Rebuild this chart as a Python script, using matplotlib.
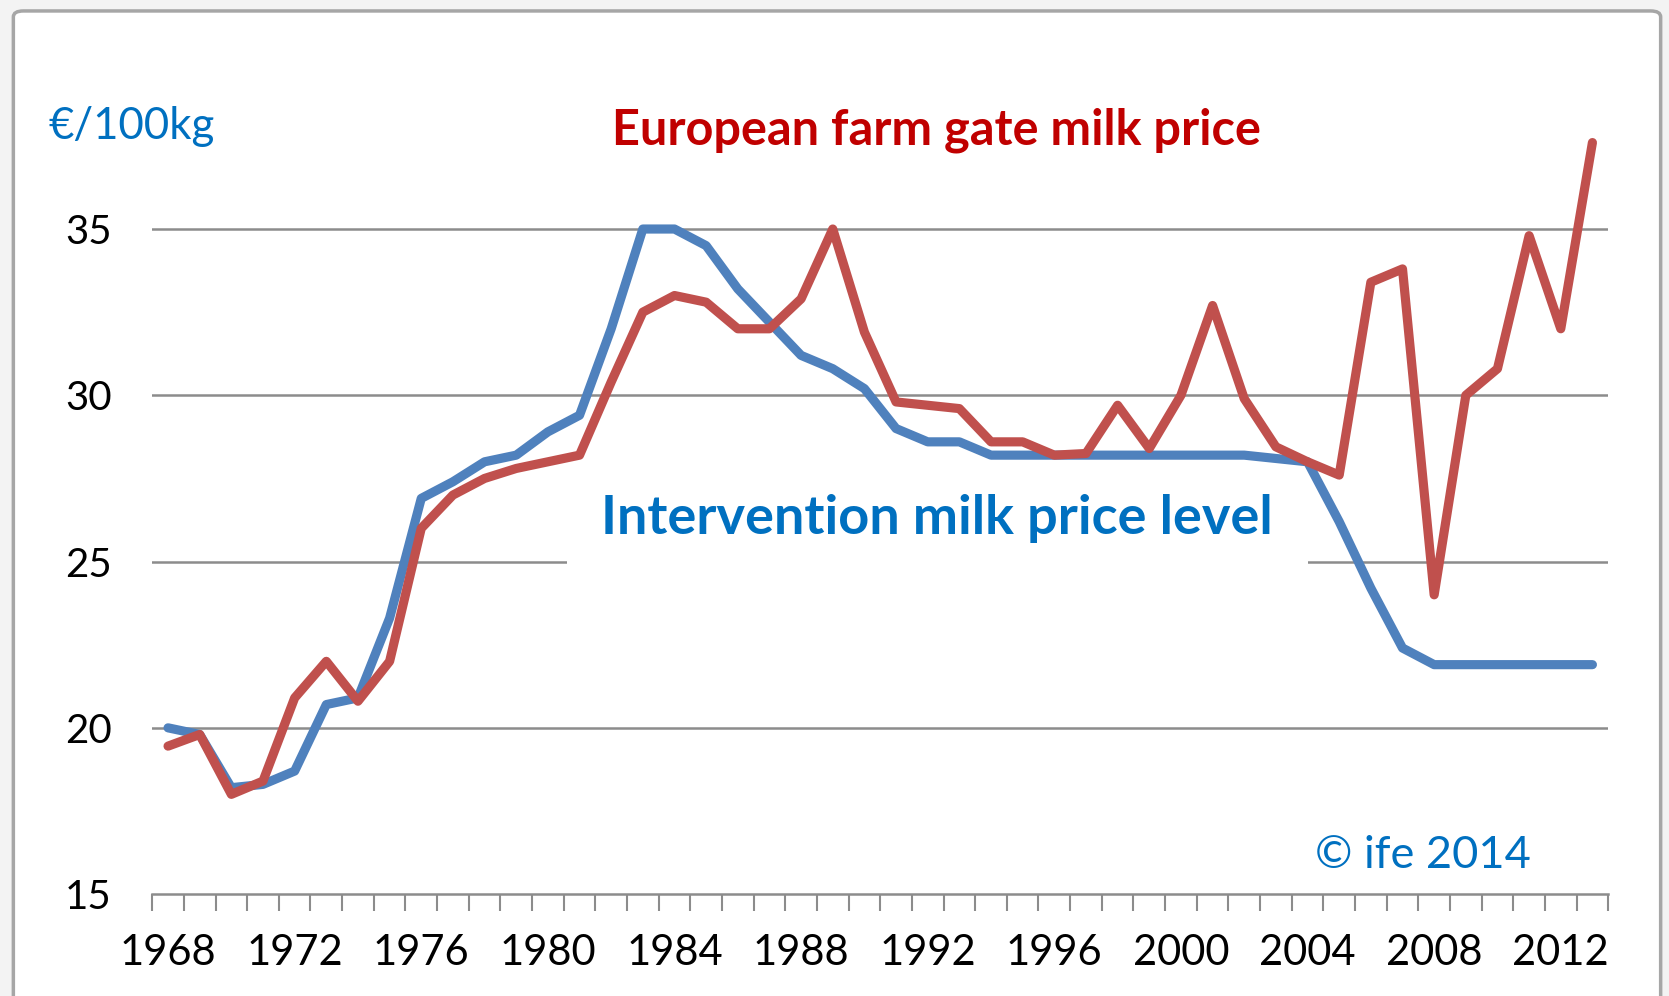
import matplotlib.pyplot as plt
from matplotlib.patches import FancyBboxPatch, Rectangle
import numpy as np

# data (EUR / 100 kg)
years = list(range(1968, 2014))
intervention = [20.0, 19.8, 18.2, 18.3, 18.7, 20.7, 20.9, 23.3, 26.9, 27.4,
                28.0, 28.2, 28.9, 29.4, 32.0, 35.0, 35.0, 34.5, 33.2, 32.2,
                31.2, 30.8, 30.2, 29.0, 28.6, 28.6, 28.2, 28.2, 28.2, 28.2,
                28.2, 28.2, 28.2, 28.2, 28.2, 28.1, 28.0, 26.2, 24.2, 22.4,
                21.9, 21.9, 21.9, 21.9, 21.9, 21.9]
farm_gate = [19.45, 19.8, 18.0, 18.4, 20.9, 22.0, 20.8, 22.0, 26.0, 27.0,
             27.5, 27.8, 28.0, 28.2, 30.4, 32.5, 33.0, 32.8, 32.0, 32.0,
             32.9, 35.0, 31.9, 29.8, 29.7, 29.6, 28.6, 28.6, 28.2, 28.25,
             29.7, 28.4, 30.0, 32.7, 29.9, 28.45, 28.0, 27.6, 33.4, 33.8,
             24.0, 30.0, 30.8, 34.8, 32.0, 37.6]
y_ticks = [15, 20, 25, 30, 35]
label_years = [1968, 1972, 1976, 1980, 1984, 1988, 1992, 1996, 2000, 2004, 2008, 2012]

blue = "#4F81BD"
red = "#C0504D"
text_blue = "#0070C0"
text_red = "#C00000"
grid_grey = "#8C8C8C"

plt.rcParams["font.family"] = ["Lato", "DejaVu Sans"]

fig = plt.figure(figsize=(16.69, 9.96), dpi=100, facecolor="#F3F3F3")

# chart area frame
frame = FancyBboxPatch((0.008, -0.02), 0.987, 1.009, boxstyle="round,pad=0,rounding_size=0.006",
                       transform=fig.transFigure, facecolor="white", edgecolor="#A6A6A6",
                       linewidth=2.5, zorder=-5)
fig.patches.append(frame)

ax = fig.add_axes([0.0912, 0.1023, 0.8724, 0.8347])
ax.set_facecolor("none")
ax.set_zorder(2)

x = np.arange(len(years))
ax.plot(x, intervention, color=blue, lw=6.6, solid_capstyle="round", solid_joinstyle="round", zorder=4)
ax.plot(x, farm_gate, color=red, lw=6.6, solid_capstyle="round", solid_joinstyle="round", zorder=5)

ax.set_xlim(-0.5, len(years) - 0.5)
ax.set_ylim(15, 40)

# gridlines
for v in y_ticks[1:]:
    ax.axhline(v, color=grid_grey, lw=1.8, zorder=1)

for side in ["top", "right", "left"]:
    ax.spines[side].set_visible(False)
ax.spines["bottom"].set_color(grid_grey)
ax.spines["bottom"].set_linewidth(1.8)

ax.set_yticks(y_ticks)
ax.set_yticklabels([str(v) for v in y_ticks], fontsize=29)
ax.tick_params(axis="y", length=0, pad=29)

ax.set_xticks([years.index(yr) for yr in label_years])
ax.set_xticklabels([str(yr) for yr in label_years], fontsize=30)
ax.set_xticks(np.arange(-0.5, len(years)), minor=True)
ax.tick_params(axis="x", which="major", length=0, pad=29)
ax.tick_params(axis="x", which="minor", length=12, width=1.5, color=grid_grey)

# annotations
fig.text(0.029, 0.873, "€/100kg", color=text_blue, fontsize=31.5, va="center", ha="left")
fig.text(0.561, 0.869, "European farm gate milk price", color=text_red, fontsize=35,
         fontweight="bold", ha="center", va="center")

# white box behind the intervention label, hides the 25 gridline
ax.add_patch(Rectangle((12.6, 24.75), 23.4, 2.75, facecolor="white", edgecolor="none", zorder=2))
ax.text(24.3, 26.3, "Intervention milk price level",
        color=text_blue, fontsize=39, fontweight="bold", ha="center", va="center", zorder=3)
ax.text(39.66, 16.17, "© ife 2014", color=text_blue, fontsize=32.5,
        ha="center", va="center", zorder=3)

fig.savefig("out.png", dpi=100, facecolor=fig.get_facecolor())
